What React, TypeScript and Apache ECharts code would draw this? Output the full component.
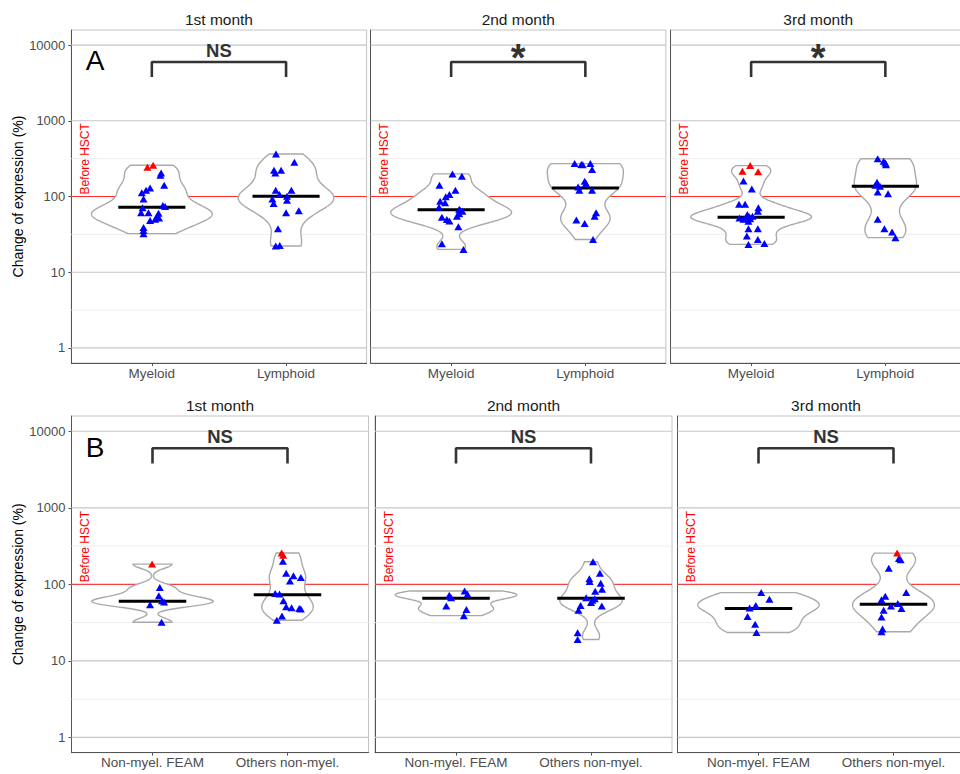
import React, { useEffect, useRef } from "react";
import * as echarts from "echarts";

// ---------- labels ----------
const MONTHS = ["1st month", "2nd month", "3rd month"];
const GROUPS_A = ["Myeloid", "Lymphoid"];
const GROUPS_B = ["Non-myel. FEAM", "Others non-myel."];
const SIG_A = ["NS", "*", "*"];
const SIG_B = ["NS", "NS", "NS"];
const ROW_LETTERS = ["A", "B"];
const Y_TICKS = [1, 10, 100, 1000, 10000];
const Y_MINOR = [3.162, 31.62, 316.2];
const REF_VALUE = 100;
const REF_LABEL = "Before HSCT";
const Y_TITLE = "Change of expression (%)";
const BRACKET_LOW = 3800;
const BRACKET_HIGH = 6000;

// ---------- data (change of expression, %) ; jitter in category units ----------
const A1_MYELOID = [205, 191, 141, 130, 121, 112, 93, 76, 74, 71, 61, 61, 60, 54, 50, 48, 52, 39, 35.6, 32.3];
const A1_MYELOID_JIT = [0.069, 0.064, 0.092, -0.013, -0.043, -0.075, -0.062, 0.082, 0.099, -0.069, -0.08, -0.025, 0.05, 0.037, 0.025, -0.013, 0.054, -0.062, -0.062, -0.062];
const A1_MYELOID_RED = [243, 259];
const A1_MYELOID_RED_JIT = [-0.033, 0.01];
const A1_LYMPHOID = [365, 283, 222, 222, 205, 121, 121, 106, 101, 93, 89, 81, 65, 61, 37.5, 22.6, 22.2];
const A1_LYMPHOID_JIT = [-0.075, 0.062, -0.09, -0.037, -0.08, -0.077, 0.04, -0.049, 0.007, -0.102, 0.007, -0.093, 0.095, 0, -0.06, -0.047, -0.077];

const A2_MYELOID = [199, 185, 141, 121, 106, 99, 86.7, 82.6, 72, 68, 66, 64, 59, 55, 53.3, 49.8, 47.3, 39.8, 23.8, 20];
const A2_MYELOID_JIT = [0.01, 0.08, -0.087, 0.032, -0.013, -0.04, -0.082, -0.045, -0.09, 0.06, 0.067, 0.084, 0.06, 0.043, -0.069, -0.032, -0.013, 0.054, -0.069, 0.092];
const A2_LYMPHOID = [272, 265, 262, 272, 228, 159, 148, 134, 121, 121, 61, 55, 49, 44, 27];
const A2_LYMPHOID_JIT = [-0.08, -0.03, -0.02, 0.037, 0.05, -0.005, 0.005, -0.054, -0.045, 0.05, 0.08, 0.069, -0.067, -0.005, 0.057];

const A3_MYELOID = [160, 126, 79, 79, 71, 64, 58, 55, 54, 53, 52, 51, 50, 47, 37.5, 37.5, 30, 27, 24, 23.3];
const A3_MYELOID_JIT = [-0.057, 0.005, -0.09, -0.045, 0.054, 0.05, -0.028, 0.01, -0.013, -0.035, -0.087, -0.007, -0.057, -0.02, -0.02, 0.05, -0.032, 0.05, 0.099, -0.02];
const A3_MYELOID_RED = [256, 216, 213];
const A3_MYELOID_RED_JIT = [-0.007, -0.065, 0.052];
const A3_LYMPHOID = [316, 292, 278, 262, 154, 141, 137, 115, 109, 50, 37.5, 34, 28.6];
const A3_LYMPHOID_JIT = [-0.057, -0.013, 0, 0.005, -0.062, -0.075, -0.04, -0.057, 0.02, -0.057, -0.007, 0.05, 0.075];

const B1_FEAM = [91, 71, 61, 59, 54, 32];
const B1_FEAM_JIT = [0.054, 0.047, 0.071, 0.086, -0.018, 0.067];
const B1_FEAM_RED = [184];
const B1_FEAM_RED_JIT = [-0.003];
const B1_OTHERS = [200, 140, 130, 123, 111, 76, 75, 61, 51, 49.5, 48.5, 47.5, 38.5, 34];
const B1_OTHERS_JIT = [-0.034, -0.01, 0.044, 0.099, 0.018, -0.091, -0.059, -0.03, -0.01, 0.03, 0.087, 0.099, -0.041, -0.079];
const B1_OTHERS_RED = [257, 240];
const B1_OTHERS_RED_JIT = [-0.044, -0.032];

const B2_FEAM = [82, 74, 72, 67, 52, 47, 39];
const B2_FEAM_JIT = [0.064, 0.085, -0.05, -0.036, -0.072, 0.077, 0.058];
const B2_OTHERS = [197, 140, 118, 109, 103, 86, 81, 67, 65, 62, 58, 53, 52, 46, 23.3, 19];
const B2_OTHERS_JIT = [0.015, 0.066, -0.012, -0.01, 0.072, 0.082, 0.031, -0.036, 0.028, 0.01, 0, -0.077, 0.08, -0.093, -0.099, -0.099];

const B3_FEAM = [78, 64, 53, 49, 38, 30, 23.5];
const B3_FEAM_JIT = [0.02, 0.081, -0.02, -0.066, -0.081, -0.025, -0.015];
const B3_OTHERS = [218, 210, 162, 78, 70, 63, 56, 52, 48.5, 46, 37.5, 26, 24];
const B3_OTHERS_JIT = [0.04, 0.053, -0.035, 0.094, -0.061, -0.089, 0.032, -0.019, 0.059, -0.073, -0.089, -0.081, -0.089];
const B3_OTHERS_RED = [256];
const B3_OTHERS_RED_JIT = [0.027];

const MEDIAN_A = [[72, 101], [67, 130], [53, 137]];
const MEDIAN_B = [[60, 73], [66, 66], [48.5, 55]];

// ---------- layout (pixels) ----------
const FONT = '"Liberation Sans", Arial, Helvetica, sans-serif';
const BW_ADJUST = 0.8;
const LAYOUT = [
  { left: 71.3, top: 30, width: 295.3, height: 333 },
  { left: 370.6, top: 30, width: 295.3, height: 333 },
  { left: 670.6, top: 30, width: 295.3, height: 333 },
  { left: 71.5, top: 416, width: 297, height: 336.7 },
  { left: 375, top: 416, width: 297, height: 336.7 },
  { left: 677.5, top: 416, width: 297, height: 336.7 },
];

type GroupSet = { blue: number[]; blueJit: number[]; red: number[]; redJit: number[] };
type Panel = { groups: string[]; title: string; sig: string; median: number[]; sets: GroupSet[] };

const PANELS: Panel[] = [
  { groups: GROUPS_A, title: MONTHS[0], sig: SIG_A[0], median: MEDIAN_A[0], sets: [
    { blue: A1_MYELOID, blueJit: A1_MYELOID_JIT, red: A1_MYELOID_RED, redJit: A1_MYELOID_RED_JIT },
    { blue: A1_LYMPHOID, blueJit: A1_LYMPHOID_JIT, red: [], redJit: [] }] },
  { groups: GROUPS_A, title: MONTHS[1], sig: SIG_A[1], median: MEDIAN_A[1], sets: [
    { blue: A2_MYELOID, blueJit: A2_MYELOID_JIT, red: [], redJit: [] },
    { blue: A2_LYMPHOID, blueJit: A2_LYMPHOID_JIT, red: [], redJit: [] }] },
  { groups: GROUPS_A, title: MONTHS[2], sig: SIG_A[2], median: MEDIAN_A[2], sets: [
    { blue: A3_MYELOID, blueJit: A3_MYELOID_JIT, red: A3_MYELOID_RED, redJit: A3_MYELOID_RED_JIT },
    { blue: A3_LYMPHOID, blueJit: A3_LYMPHOID_JIT, red: [], redJit: [] }] },
  { groups: GROUPS_B, title: MONTHS[0], sig: SIG_B[0], median: MEDIAN_B[0], sets: [
    { blue: B1_FEAM, blueJit: B1_FEAM_JIT, red: B1_FEAM_RED, redJit: B1_FEAM_RED_JIT },
    { blue: B1_OTHERS, blueJit: B1_OTHERS_JIT, red: B1_OTHERS_RED, redJit: B1_OTHERS_RED_JIT }] },
  { groups: GROUPS_B, title: MONTHS[1], sig: SIG_B[1], median: MEDIAN_B[1], sets: [
    { blue: B2_FEAM, blueJit: B2_FEAM_JIT, red: [], redJit: [] },
    { blue: B2_OTHERS, blueJit: B2_OTHERS_JIT, red: [], redJit: [] }] },
  { groups: GROUPS_B, title: MONTHS[2], sig: SIG_B[2], median: MEDIAN_B[2], sets: [
    { blue: B3_FEAM, blueJit: B3_FEAM_JIT, red: [], redJit: [] },
    { blue: B3_OTHERS, blueJit: B3_OTHERS_JIT, red: B3_OTHERS_RED, redJit: B3_OTHERS_RED_JIT }] },
];

// ---------- violin density (gaussian KDE on log10 values, bw.nrd0, trimmed) ----------
function bwNrd0(x: number[]): number {
  const n = x.length;
  const s = [...x].sort((a, b) => a - b);
  const mean = x.reduce((a, b) => a + b, 0) / n;
  const sd = Math.sqrt(x.reduce((a, v) => a + (v - mean) * (v - mean), 0) / (n - 1));
  const q = (p: number) => {
    const h = (n - 1) * p;
    const lo = Math.floor(h);
    const hi = Math.ceil(h);
    return s[lo] + (h - lo) * (s[hi] - s[lo]);
  };
  const iqr = q(0.75) - q(0.25);
  let lo = Math.min(sd, iqr / 1.34);
  if (!(lo > 0)) lo = sd || 1;
  return 0.9 * lo * Math.pow(n, -0.2);
}

function kde(vals: number[]) {
  const x = vals.map((v) => Math.log10(v));
  const n = x.length;
  const bw = bwNrd0(x) * BW_ADJUST;
  const lo = Math.min(...x);
  const hi = Math.max(...x);
  const N = 120;
  const t: number[] = [];
  const d: number[] = [];
  for (let k = 0; k < N; k++) {
    const tt = lo + ((hi - lo) * k) / (N - 1);
    let s = 0;
    for (const xi of x) {
      const z = (tt - xi) / bw;
      s += Math.exp(-0.5 * z * z);
    }
    t.push(tt);
    d.push(s / (n * bw * Math.sqrt(2 * Math.PI)));
  }
  return { t, d };
}

function panelOutlines(sets: GroupSet[]) {
  const raw = sets.map((s) => kde([...s.blue, ...s.red]));
  let maxD = 0;
  raw.forEach((r) => r.d.forEach((v) => { if (v > maxD) maxD = v; }));
  return raw.map((r) => ({ t: r.t, hw: r.d.map((v) => (0.45 * v) / maxD) }));
}

function buildOption() {
  const grid: any[] = [];
  const xAxis: any[] = [];
  const yAxis: any[] = [];
  const series: any[] = [];
  const graphic: any[] = [];

  PANELS.forEach((p, i) => {
    const L = LAYOUT[i];
    const col = i % 3;
    const row = Math.floor(i / 3);
    grid.push({ left: L.left, top: L.top, width: L.width, height: L.height, show: true, borderColor: "#c4c4c4", borderWidth: 1, backgroundColor: "transparent" });
    const groups = p.groups;
    xAxis.push({
      gridIndex: i, type: "value", min: 0.4, max: 2.6,
      splitLine: { show: false },
      axisLine: { show: true, onZero: false, lineStyle: { color: "#555555", width: 1 } },
      axisTick: { show: true, customValues: [1, 2], length: 3, lineStyle: { color: "#555555" } },
      axisLabel: { customValues: [1, 2], formatter: (v: number) => groups[Math.round(v) - 1] || "", color: "#4d4d4d", fontSize: 13.5, fontFamily: FONT, margin: 3 },
    });
    yAxis.push({
      gridIndex: i, type: "log", logBase: 10, min: Math.pow(10, -0.2), max: Math.pow(10, 4.2),
      splitLine: { show: false }, minorTick: { show: false }, minorSplitLine: { show: false },
      axisLine: { show: true, onZero: false, lineStyle: { color: "#555555", width: 1 } },
      axisTick: { show: col === 0, customValues: Y_TICKS, length: 3, lineStyle: { color: "#555555" } },
      axisLabel: { show: col === 0, customValues: Y_TICKS, formatter: (v: number) => String(Math.round(v)), color: "#4d4d4d", fontSize: 13, fontFamily: FONT, margin: 6 },
    });

    const outlines = panelOutlines(p.sets);
    const med = p.median;

    // grid lines + reference line
    series.push({
      type: "custom", xAxisIndex: i, yAxisIndex: i, z: 1, silent: true,
      data: [[1, REF_VALUE]],
      renderItem: (params: any, api: any) => {
        const cs = params.coordSys;
        const x0 = cs.x;
        const x1 = cs.x + cs.width;
        const children: any[] = [];
        Y_MINOR.forEach((v) => {
          const y = api.coord([1, v])[1];
          children.push({ type: "line", shape: { x1: x0, y1: y, x2: x1, y2: y }, style: { stroke: "#ebebeb", lineWidth: 0.9 } });
        });
        Y_TICKS.forEach((v) => {
          const y = api.coord([1, v])[1];
          children.push({ type: "line", shape: { x1: x0, y1: y, x2: x1, y2: y }, style: { stroke: "#c6c6c6", lineWidth: 1.1 } });
        });
        const yr = api.coord([1, REF_VALUE])[1];
        children.push({ type: "line", shape: { x1: x0, y1: yr, x2: x1, y2: yr }, style: { stroke: "#ff2a2a", lineWidth: 1 } });
        return { type: "group", children };
      },
    });

    // violins
    series.push({
      type: "custom", xAxisIndex: i, yAxisIndex: i, z: 2, silent: true,
      data: [[1, med[0]], [2, med[1]]],
      renderItem: (params: any, api: any) => {
        const g = params.dataIndex;
        const o = outlines[g];
        const cx = g + 1;
        const pts: number[][] = [];
        for (let k = 0; k < o.t.length; k++) pts.push(api.coord([cx + o.hw[k], Math.pow(10, o.t[k])]));
        for (let k = o.t.length - 1; k >= 0; k--) pts.push(api.coord([cx - o.hw[k], Math.pow(10, o.t[k])]));
        return { type: "polygon", shape: { points: pts }, style: { fill: "#ffffff", stroke: "#a9a9a9", lineWidth: 1.4 } };
      },
    });

    // medians
    series.push({
      type: "custom", xAxisIndex: i, yAxisIndex: i, z: 3, silent: true,
      data: [[1, med[0]], [2, med[1]]],
      renderItem: (params: any, api: any) => {
        const cx = api.value(0);
        const m = api.value(1);
        const a = api.coord([cx - 0.25, m]);
        const b = api.coord([cx + 0.25, m]);
        return { type: "line", shape: { x1: a[0], y1: a[1], x2: b[0], y2: b[1] }, style: { stroke: "#000000", lineWidth: 3 } };
      },
    });

    // points
    const blue: number[][] = [];
    const red: number[][] = [];
    p.sets.forEach((s, g) => {
      s.blue.forEach((v, k) => blue.push([g + 1 + s.blueJit[k], v]));
      s.red.forEach((v, k) => red.push([g + 1 + s.redJit[k], v]));
    });
    series.push({ type: "scatter", xAxisIndex: i, yAxisIndex: i, z: 4, silent: true, symbol: "triangle", symbolSize: [8, 7], itemStyle: { color: "#0000ff", opacity: 1 }, data: blue });
    if (red.length) series.push({ type: "scatter", xAxisIndex: i, yAxisIndex: i, z: 4, silent: true, symbol: "triangle", symbolSize: [8, 7], itemStyle: { color: "#ff0000", opacity: 1 }, data: red });

    // significance bracket
    series.push({
      type: "line", xAxisIndex: i, yAxisIndex: i, z: 5, silent: true, symbol: "none", showSymbol: false,
      lineStyle: { color: "#333333", width: 2.6 },
      data: [[1, BRACKET_LOW], [1, BRACKET_HIGH], [2, BRACKET_HIGH], [2, BRACKET_LOW]],
    });
    const isStar = p.sig === "*";
    series.push({
      type: "custom", xAxisIndex: i, yAxisIndex: i, z: 5, silent: true,
      data: [[1.5, isStar ? 6700 : 8600]],
      renderItem: (params: any, api: any) => {
        const c = api.coord([api.value(0), api.value(1)]);
        return {
          type: "text", x: c[0], y: c[1],
          style: { text: p.sig, fill: "#333333", fontSize: isStar ? 38 : 18.5, fontWeight: "bold", fontFamily: FONT, align: "center", verticalAlign: "middle", textAlign: "center", textVerticalAlign: "middle" },
        };
      },
    });

    // "Before HSCT" annotation
    series.push({
      type: "custom", xAxisIndex: i, yAxisIndex: i, z: 5, silent: true,
      data: [[0.5, REF_VALUE]],
      renderItem: (params: any, api: any) => {
        const c = api.coord([api.value(0), api.value(1)]);
        return {
          type: "text", x: c[0], y: c[1] - 2, rotation: Math.PI / 2,
          style: { text: REF_LABEL, fill: "#ff0000", fontSize: 12, fontFamily: FONT, align: "left", verticalAlign: "middle", textAlign: "left", textVerticalAlign: "middle" },
        };
      },
    });

    // panel title
    graphic.push({
      type: "text", x: L.left + L.width / 2, y: row === 0 ? 19 : 405.3, silent: true,
      style: { text: p.title, fill: "#1a1a1a", fontSize: 15.5, fontFamily: FONT, align: "center", verticalAlign: "middle", textAlign: "center", textVerticalAlign: "middle" },
    });
  });

  // row letters and y titles
  [0, 1].forEach((r) => {
    const L = LAYOUT[r * 3];
    graphic.push({
      type: "text", x: 95, y: r === 0 ? 60 : 447, silent: true,
      style: { text: ROW_LETTERS[r], fill: "#000000", fontSize: 28, fontFamily: FONT, align: "center", verticalAlign: "middle", textAlign: "center", textVerticalAlign: "middle" },
    });
    graphic.push({
      type: "text", x: 18, y: L.top + L.height / 2, rotation: Math.PI / 2, silent: true,
      style: { text: Y_TITLE, fill: "#000000", fontSize: 14, fontFamily: FONT, align: "center", verticalAlign: "middle", textAlign: "center", textVerticalAlign: "middle" },
    });
  });

  return { animation: false, backgroundColor: "#ffffff", textStyle: { fontFamily: FONT }, grid, xAxis, yAxis, series, graphic };
}

export default function App() {
  const ref = useRef<HTMLDivElement>(null);
  useEffect(() => {
    if (!ref.current) return;
    const chart = echarts.init(ref.current, undefined, { renderer: "svg" });
    chart.setOption(buildOption() as any);
    return () => chart.dispose();
  }, []);
  return (
    <div style={{ position: "absolute", left: 0, top: 0, width: 960, height: 774, overflow: "hidden", background: "#fff" }}>
      <div ref={ref} style={{ width: 1000, height: 774 }} />
    </div>
  );
}
